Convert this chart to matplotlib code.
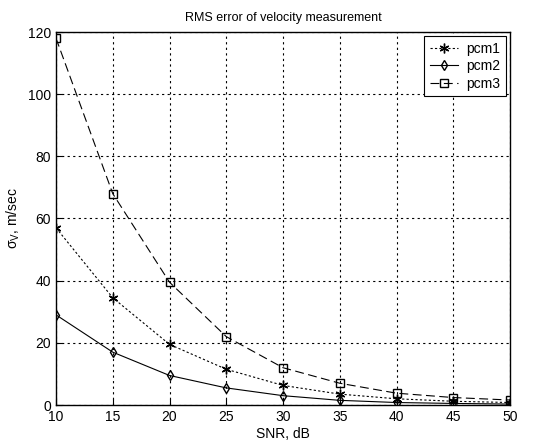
import numpy as np
import matplotlib
matplotlib.use("Agg")
import matplotlib.pyplot as plt

plt.rcParams['font.family'] = ['Liberation Sans', 'DejaVu Sans']
plt.rcParams['mathtext.fontset'] = 'custom'
plt.rcParams['mathtext.rm'] = 'Liberation Sans'
plt.rcParams['mathtext.it'] = 'Liberation Sans'

# Valeurs
snr = [10, 15, 20, 25, 30, 35, 40, 45, 50]
pcm1 = [57, 34.5, 19.5, 11.5, 6.3, 3.5, 2.0, 1.2, 0.8]
pcm2 = [29, 17, 9.5, 5.5, 3.0, 1.5, 0.8, 0.5, 0.3]
pcm3 = [118, 68, 39.5, 22, 12, 7, 3.8, 2.4, 1.6]

fig = plt.figure(figsize=(5.43, 4.44), dpi=100)
ax = fig.add_axes([56 / 543, 1 - 405 / 444, 454 / 543, 373 / 444])

ax.plot(snr, pcm1, color='black', linestyle=(0, (2, 2)), linewidth=0.8,
        marker=(6, 2, 0), markersize=7, markeredgewidth=1.0, label='pcm1')
ax.plot(snr, pcm2, color='black', linestyle='-', linewidth=0.8,
        marker='d', markersize=5, markerfacecolor='none', label='pcm2')
ax.plot(snr, pcm3, color='black', linestyle=(0, (8, 4)), linewidth=0.8,
        marker='s', markersize=6, markerfacecolor='none', label='pcm3')

ax.set_xlim(10, 50)
ax.set_ylim(0, 120)
ax.set_xticks(np.arange(10, 51, 5))
ax.set_yticks(np.arange(0, 121, 20))
ax.grid(True, color='black', linestyle=(0, (2, 3)), linewidth=0.8)
ax.tick_params(direction='in', labelsize=10, length=4)
for s in ax.spines.values():
    s.set_linewidth(1.0)

ax.set_title('RMS error of velocity measurement', fontsize=9, pad=8)
ax.set_xlabel('SNR, dB', fontsize=10, labelpad=2)
ax.set_ylabel(r'$\sigma_{\mathrm{V}}$, m/sec', fontsize=10)

leg = ax.legend(loc='upper right', fontsize=10, fancybox=False,
                edgecolor='black', framealpha=1, handlelength=2.0,
                borderaxespad=0.3, labelspacing=0.25, handletextpad=0.6)
leg.get_frame().set_linewidth(0.8)

fig.savefig('out.png', dpi=100)
